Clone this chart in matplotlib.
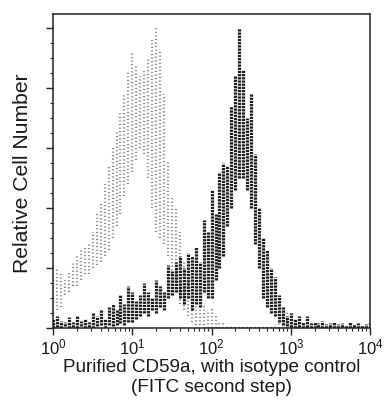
import numpy as np
import matplotlib
matplotlib.use('Agg')
import matplotlib.pyplot as plt
from matplotlib.ticker import MultipleLocator, LogLocator, NullFormatter

plt.rcParams['font.family'] = ['Liberation Sans', 'DejaVu Sans']
plt.rcParams['mathtext.default'] = 'regular'

# histogram bins, in decades of fluorescence (10^0 .. 10^4)
bin_log = np.arange(0, 4.001, 0.05)

# stained sample (black): upper / lower extent of the noisy counts per bin
black_hi = [0.15, 0.2, 0.12, 0.1, 0.18, 0.1, 0.2, 0.12, 0.15, 0.1,
            0.25, 0.2, 0.3, 0.15, 0.35, 0.4, 0.3, 0.55, 0.4, 0.7,
            0.6, 0.45, 0.55, 0.75, 0.6, 0.5, 0.8, 0.7, 0.6, 1.05,
            0.95, 1.1, 1.2, 1.0, 1.25, 1.2, 1.35, 1.1, 1.8, 1.6,
            2.3, 1.9, 2.6, 2.75, 2.7, 3.7, 4.2, 5.0, 4.3, 3.5,
            3.9, 2.9, 2.0, 1.5, 1.3, 1.0, 0.85, 0.55, 0.35, 0.2,
            0.25, 0.15, 0.2, 0.1, 0.2, 0.08, 0.1, 0.08, 0.12, 0.06,
            0.08, 0.1, 0.06, 0.08, 0.05, 0.1, 0.06, 0.08, 0.05, 0.06, 0.1]
black_lo = [0.0, 0.02, 0.0, 0.03, 0.0, 0.02, 0.0, 0.03, 0.0, 0.02,
            0.0, 0.03, 0.05, 0.0, 0.05, 0.03, 0.05, 0.08, 0.05, 0.1,
            0.1, 0.15, 0.2, 0.25, 0.2, 0.3, 0.25, 0.35, 0.3, 0.5,
            0.55, 0.6, 0.5, 0.4, 0.5, 0.3, 0.4, 0.35, 0.6, 0.5,
            0.5, 0.8, 1.0, 1.2, 1.7, 2.0, 2.3, 2.5, 2.5, 2.3,
            2.0, 1.4, 1.0, 0.5, 0.35, 0.25, 0.2, 0.1, 0.05, 0.03,
            0.02, 0.0, 0.02, 0.0, 0.02, 0.0, 0.0, 0.02, 0.0, 0.0,
            0.02, 0.0, 0.0, 0.02, 0.0, 0.0, 0.02, 0.0, 0.0, 0.0, 0.0]

# isotype control (grey)
gray_hi = [0.9, 1.0, 0.9, 0.8, 0.95, 1.1, 1.2, 1.3, 1.35, 1.4,
           1.6, 1.9, 2.1, 2.4, 2.7, 3.0, 3.3, 3.6, 3.9, 4.3,
           4.6, 4.4, 4.2, 4.3, 4.5, 4.8, 5.0, 4.6, 3.9, 2.8,
           2.2, 2.0, 1.6, 1.1, 0.8, 0.5, 0.4, 0.35, 0.4, 0.3,
           0.35, 0.2, 0.1, 0.08, 0.05, 0.05, 0.05, 0.04, 0.05, 0.04,
           0.05, 0.04, 0.05, 0.05, 0.04, 0.05, 0.06, 0.1, 0.2, 0.3,
           0.25, 0.1, 0.06, 0.05, 0.04, 0.05, 0.04, 0.05, 0.04, 0.05,
           0.04, 0.05, 0.04, 0.05, 0.04, 0.05, 0.04, 0.05, 0.04, 0.05, 0.04]
gray_lo = [0.2, 0.3, 0.35, 0.55, 0.6, 0.7, 0.7, 0.8, 0.9, 0.9,
           1.0, 1.05, 1.1, 1.2, 1.3, 1.5, 1.7, 1.9, 2.2, 2.4,
           2.6, 2.8, 3.0, 2.9, 2.5, 2.0, 1.6, 1.5, 1.4, 1.2,
           0.9, 0.6, 0.4, 0.3, 0.2, 0.1, 0.05, 0.05, 0.05, 0.0] + [0.0] * 41

x = 10 ** bin_log

fig = plt.figure(figsize=(3.85, 4.0), dpi=100)
ax = fig.add_axes([0.138, 0.18, 0.823, 0.785])

ax.vlines(x, gray_lo, gray_hi, colors='#858585', linewidth=1.6,
          linestyles=(0, (0.5, 1.1)))
ax.vlines(x, black_lo, black_hi, colors='#1a1a1a', linewidth=2.3,
          linestyles=(0, (0.7, 0.3)))

ax.set_xscale('log')
ax.set_xlim(1, 1e4)
ax.set_ylim(0, 5.23)

ax.xaxis.set_major_locator(LogLocator(base=10, numticks=10))
ax.xaxis.set_minor_locator(LogLocator(base=10, subs=np.arange(2, 10), numticks=20))
ax.xaxis.set_minor_formatter(NullFormatter())
ax.yaxis.set_major_locator(MultipleLocator(1))
ax.yaxis.set_minor_locator(MultipleLocator(0.25))
ax.set_yticklabels([])

ax.tick_params(which='major', direction='out', length=5, width=1.0, color='#222222',
               labelsize=12, pad=2, labelcolor='#1a1a1a')
ax.tick_params(which='minor', direction='out', length=2.5, width=0.8, color='#222222')
for s in ax.spines.values():
    s.set_linewidth(1.1)
    s.set_color('#222222')

# axis titles placed in figure pixels to match the reference
W, H = 385.0, 400.0
fig.text(211.5 / W, 1 - 372 / H, 'Purified CD59a, with isotype control',
         fontsize=13.6, ha='center', va='baseline', color='#1a1a1a')
fig.text(211.5 / W, 1 - 392 / H, '(FITC second step)',
         fontsize=13.6, ha='center', va='baseline', color='#1a1a1a')
fig.text(23 / W, 1 - 173 / H, 'Relative Cell Number', rotation=90,
         fontsize=15.2, ha='center', va='center', color='#1a1a1a')

fig.savefig('out.png', dpi=100)
